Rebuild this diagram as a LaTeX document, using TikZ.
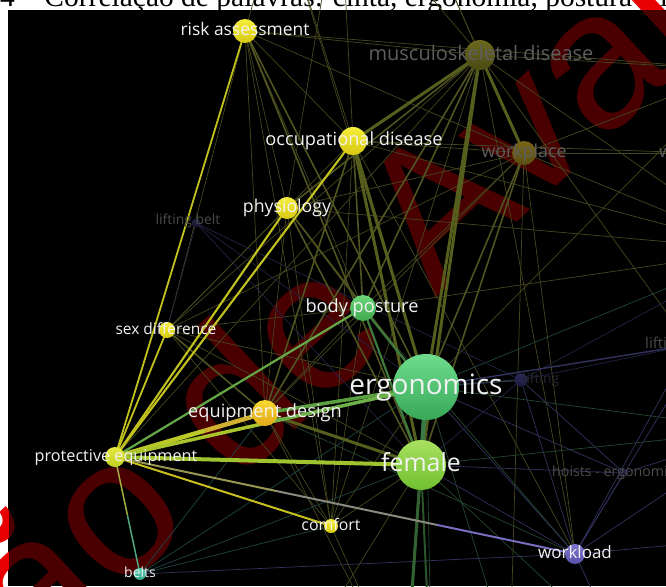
\documentclass[tikz,border=0pt]{standalone}
\usepackage{fontspec}
\newfontfamily\osfont{Open Sans}
\newfontfamily\capfont{Liberation Serif}
\newfontfamily\wmfont{Liberation Sans}
\usetikzlibrary{calc}
\newcommand\wfs[1]{\fontsize{#1}{#1}\selectfont}
\definecolor{labw}{HTML}{F2F2F2}
\definecolor{labg}{HTML}{5E5E5E}
\definecolor{labd}{HTML}{4A4A4A}
\definecolor{labk}{HTML}{26262E}
\definecolor{wmdark}{HTML}{4A0000}
\definecolor{wmred}{HTML}{E80000}
\definecolor{thinO}{HTML}{46471F}
\definecolor{thinG}{HTML}{24482E}
\definecolor{thinT}{HTML}{1E4644}
\definecolor{thinP}{HTML}{32325E}
\definecolor{thinN}{HTML}{232344}
\definecolor{medO}{HTML}{505420}
\definecolor{thkO}{HTML}{565E1E}
\definecolor{medG}{HTML}{3E7A3E}
\definecolor{ylw}{HTML}{C2C21E}
\begin{document}
\begin{tikzpicture}[x=1pt,y=-1pt,
  lab/.style={text=labw, inner sep=0pt, anchor=center, execute at begin node=\vphantom{lg}},
  ball/.style 2 args={circle, inner sep=0pt, draw=none,
    /utils/exec={\definecolor{btop}{HTML}{#1}\definecolor{bbot}{HTML}{#2}},
    top color=btop, bottom color=bbot},
  wm/.style={anchor=base west, rotate=43, inner sep=0pt, font=\wmfont\wfs{196}},
  tO/.style={line width=0.7pt, draw=thinO},
  tG/.style={line width=0.7pt, draw=thinG},
  tT/.style={line width=0.7pt, draw=thinT},
  tP/.style={line width=0.7pt, draw=thinP},
  tN/.style={line width=0.7pt, draw=thinN},
  mO/.style={line width=1.6pt, draw=medO},
  kO/.style={line width=3pt, draw=thkO},
  mG/.style={line width=2.2pt, draw=medG},
  yE/.style={line width=2.1pt, draw=ylw}
]
\useasboundingbox (0,0) rectangle (666,586);
\begin{scope}
\clip (0,0) rectangle (666,586);
\fill[white] (0,0) rectangle (666,586);
\node[anchor=base west, inner sep=0pt, font=\capfont\wfs{29.5}] (cap) at (0,7) {4 – Correlação de palavras: cinta, ergonomia, postura e l};
\fill[black] (8,10) rectangle (666,586);
% watermark
\begin{scope}
  \clip (8,10) rectangle (666,586);
  \node[wm, text=wmdark] (wmA) at (-250,938) {Versão de Avaliação};
\end{scope}
\begin{scope}
  \clip (0,0) -- (666,0) -- (666,10) -- (8,10) -- (8,586) -- (0,586) -- cycle;
  \node[wm, text=wmred] (wmB) at (-250,938) {Versão de Avaliação};
\end{scope}

% coordinates of items
\coordinate (risk) at (245,31);
\coordinate (occ) at (353,141);
\coordinate (msd) at (480,55);
\coordinate (wp) at (524,153);
\coordinate (phys) at (287,208);
\coordinate (lb) at (196,223);
\coordinate (sex) at (167,330);
\coordinate (bp) at (363,308);
\coordinate (ergo) at (426,387);
\coordinate (lift) at (521,380);
\coordinate (ed) at (265,413);
\coordinate (pe) at (115,457);
\coordinate (fem) at (421,465);
\coordinate (hoist) at (624,473);
\coordinate (comf) at (331,526);
\coordinate (wl) at (575,554);
\coordinate (belts) at (140,574);
% items outside the visible area
\coordinate (wnode) at (700,153);
\coordinate (lifti) at (690,345);
\coordinate (ra) at (760,250);
\coordinate (rb) at (740,70);
\coordinate (rc) at (760,430);
\coordinate (rd) at (730,540);
\coordinate (ta) at (280,-90);
\coordinate (tb) at (340,-110);
\coordinate (tc) at (420,-80);
\coordinate (ba) at (405,690);
\coordinate (bb) at (432,700);
\coordinate (bc) at (510,660);
\coordinate (bd) at (620,650);
\coordinate (be) at (300,660);

% thin links
\foreach \a/\b in {risk/msd, risk/occ, risk/phys, risk/bp, risk/ed, risk/wp, risk/sex, risk/ta, risk/rb, risk/comf,
  occ/sex, occ/wp, occ/comf, occ/wl, occ/wnode, occ/ta, occ/tb, occ/ra,
  msd/sex, msd/ed, msd/pe, msd/comf, msd/wl, msd/ra, msd/rb, msd/tb, msd/tc, msd/lifti,
  wp/bp, wp/phys, wp/ed, wp/wnode, wp/ra, wp/wl, wp/bc, wp/sex, wp/rb, wp/tc,
  phys/bp, phys/ed, phys/sex, phys/comf, phys/ra, phys/tb,
  bp/ed, bp/sex, bp/comf, bp/ra,
  sex/ergo, sex/fem, sex/comf,
  ed/comf, ed/ba, comf/ba, fem/comf, ergo/comf, fem/be, ergo/rb, ergo/ta}
  \draw[tO] (\a) -- (\b);
\foreach \a/\b in {ergo/rc, fem/rc, ergo/bc, fem/bd, bp/wl, ed/wl, ergo/bb}
  \draw[tG] (\a) -- (\b);
\foreach \a/\b in {belts/ergo, belts/fem, ed/belts, comf/belts, ergo/ra}
  \draw[tT] (\a) -- (\b);
\foreach \a/\b in {wl/hoist, wl/lifti, wl/rc, wl/bd, wl/lift, wl/belts, wl/ra, ergo/wl, fem/wl, fem/hoist, ergo/hoist, lift/hoist, hoist/rc, wl/rd}
  \draw[tP] (\a) -- (\b);
\foreach \a/\b in {lb/lift, lb/ergo, lb/fem, lb/sex, lift/lifti, lift/fem, lift/ra}
  \draw[tN] (\a) -- (\b);

% medium and thick links
\foreach \a/\b in {risk/ergo, risk/fem, phys/msd, bp/msd, phys/ergo, phys/fem, wp/ergo, wp/fem, occ/bp, occ/ed, sex/ed, ed/msd}
  \draw[mO] (\a) -- (\b);
\foreach \a/\b in {occ/msd, msd/wp, ergo/msd, occ/ergo, occ/fem, fem/msd, ed/fem}
  \draw[kO] (\a) -- (\b);
\foreach \a/\b in {bp/ergo, bp/fem, ergo/ba}
  \draw[mG] (\a) -- (\b);
\draw[line width=1.6pt, draw=thinN!80!medG] (ergo) -- (lift);
\draw[line width=1.4pt, draw=thinP] (ergo) -- (lifti);
\draw[line width=3pt, draw=medG!80!black] (fem) -- (ba);
\draw[line width=2pt, draw=medG!70!black] (fem) -- (bb);
\draw[line width=4.5pt, draw={rgb,255:red,58;green,122;blue,70}] (ergo) -- (fem);
\draw[line width=3.5pt, draw={rgb,255:red,90;green,160;blue,64}] (ed) -- (ergo);

% links of protective equipment
\draw[yE, line width=1.8pt] (pe) -- (risk);
\draw[yE] (pe) -- (occ);
\draw[yE] (pe) -- (phys);
\draw[yE, line width=1.8pt] (pe) -- (sex);
\draw[yE, line width=2pt, draw={rgb,255:red,200;green,192;blue,32}] (pe) -- (comf);
\draw[line width=2.2pt, draw={rgb,255:red,100;green,168;blue,72}] (pe) -- (bp);
\draw[line width=4pt, draw={rgb,255:red,160;green,196;blue,48}] (pe) -- (fem);
\draw[line width=4.5pt, draw={rgb,255:red,188;green,200;blue,40}] (pe) -- ($(pe)!0.6!(ed)$) coordinate (ped);
\draw[line width=4.5pt, draw={rgb,255:red,208;green,176;blue,48}] (ped) -- (ed);
\draw[line width=3.5pt, draw={rgb,255:red,168;green,196;blue,44}] (pe) -- ($(pe)!0.5!(ergo)$) coordinate (peg);
\draw[line width=3.5pt, draw={rgb,255:red,108;green,176;blue,72}] (peg) -- (ergo);
\draw[line width=2pt, draw={rgb,255:red,150;green,150;blue,80}] (pe) -- ($(pe)!0.35!(wl)$) coordinate (pw1);
\draw[line width=2pt, draw={rgb,255:red,138;green,138;blue,128}] (pw1) -- ($(pe)!0.7!(wl)$) coordinate (pw2);
\draw[line width=2pt, draw={rgb,255:red,118;green,110;blue,190}] (pw2) -- (wl);
\draw[line width=1.5pt, draw={rgb,255:red,160;green,176;blue,64}] (pe) -- ($(pe)!0.5!(belts)$) coordinate (pb);
\draw[line width=1.5pt, draw={rgb,255:red,80;green,168;blue,128}] (pb) -- (belts);

% item circles
\node[ball={F5EE3A}{D8C812}, minimum size=24pt] (risk-n) at (risk) {};
\node[ball={F5EE3A}{D8C812}, minimum size=28pt] (occ-n) at (occ) {};
\node[ball={6A6820}{4A4A14}, minimum size=30pt] (msd-n) at (msd) {};
\node[ball={7A6418}{5A5012}, minimum size=24pt] (wp-n) at (wp) {};
\node[ball={F5EE3A}{D8C812}, minimum size=22pt] (phys-n) at (phys) {};
\node[ball={202040}{18182E}, minimum size=9pt] (lb-n) at (lb) {};
\node[ball={F5EE3A}{D8C812}, minimum size=16pt] (sex-n) at (sex) {};
\node[ball={6CD878}{40A850}, minimum size=26pt] (bp-n) at (bp) {};
\node[ball={6EDC8C}{38A858}, minimum size=66pt] (ergo-n) at (ergo) {};
\node[ball={2A2A58}{1C1C40}, minimum size=13pt] (lift-n) at (lift) {};
\node[ball={F8D830}{E0A818}, minimum size=26pt] (ed-n) at (ed) {};
\node[ball={E8E840}{C0D020}, minimum size=20pt] (pe-n) at (pe) {};
\node[ball={A8E060}{70C030}, minimum size=50pt] (fem-n) at (fem) {};
\node[ball={242444}{1C1C36}, minimum size=8pt] (hoist-n) at (hoist) {};
\node[ball={F5EE3A}{D8C812}, minimum size=14pt] (comf-n) at (comf) {};
\node[ball={8078D0}{5850A8}, minimum size=20pt] (wl-n) at (wl) {};
\node[ball={50D0B0}{30A088}, minimum size=12pt] (belts-n) at (belts) {};

% labels
\node[lab, font=\osfont\wfs{17.4}] (risk-l) at (245,31) {risk assessment};
\node[lab, font=\osfont\wfs{18.2}] (occ-l) at (354,141) {occupational disease};
\node[lab, text=labg, font=\osfont\wfs{20}] (msd-l) at (481,55) {musculoskeletal disease};
\node[lab, text=labg, font=\osfont\wfs{17.8}] (wp-l) at (524,153) {workplace};
\node[lab, font=\osfont\wfs{17.7}] (phys-l) at (287,208) {physiology};
\node[lab, text=labd, font=\osfont\wfs{13.9}] (lb-l) at (188,221) {lifting belt};
\node[lab, font=\osfont\wfs{15.5}] (sex-l) at (166,330) {sex difference};
\node[lab, font=\osfont\wfs{18.2}] (bp-l) at (362,308) {body posture};
\node[lab, font=\osfont\wfs{28}] (ergo-l) at (426,387) {ergonomics};
\node[lab, text=labk, font=\osfont\wfs{14}] (lift-l) at (541,380) {lifting};
\node[lab, font=\osfont\wfs{18.2}] (ed-l) at (265,413) {equipment design};
\node[lab, font=\osfont\wfs{16.2}] (pe-l) at (116,457) {protective equipment};
\node[lab, font=\osfont\wfs{24.9}] (fem-l) at (421,465) {female};
\node[lab, anchor=west, text=labd, font=\osfont\wfs{14.2}] (hoist-l) at (552,473) {hoists - ergonomics};
\node[lab, font=\osfont\wfs{15.9}] (comf-l) at (331,526) {comfort};
\node[lab, font=\osfont\wfs{17}] (wl-l) at (575,554) {workload};
\node[lab, font=\osfont\wfs{14}] (belts-l) at (140,574) {belts};
\node[lab, anchor=west, text=labg, font=\osfont\wfs{17}] (w-l) at (659,153) {w};
\node[lab, anchor=west, text=labd, font=\osfont\wfs{15}] (lifti-l) at (645,345) {lifting};
\end{scope}
\end{tikzpicture}
\end{document}
